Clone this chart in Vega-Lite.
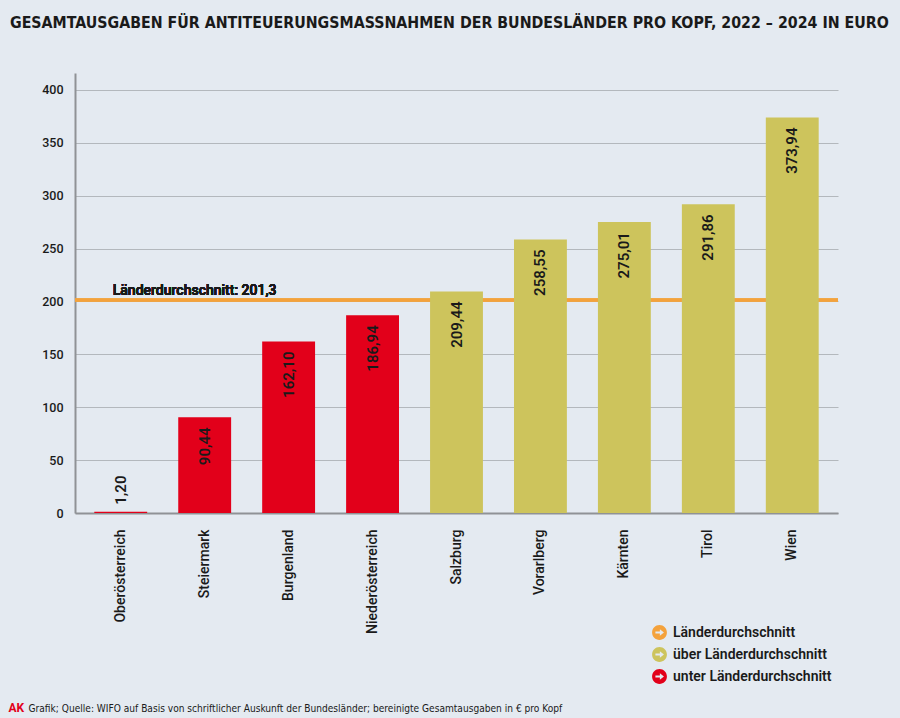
{
  "$schema": "https://vega.github.io/schema/vega-lite/v6.json",
  "width": 763,
  "height": 440,
  "autosize": {"type": "none"},
  "padding": {"left": 75, "top": 73, "right": 62, "bottom": 205},
  "background": "#e4eaf1",
  "config": {
    "view": {"stroke": null},
    "font": "Roboto",
    "locale": {"number": {"decimal": ",", "thousands": ".", "grouping": [3], "currency": ["", " €"]}}
  },
  "title": {
    "text": "GESAMTAUSGABEN FÜR ANTITEUERUNGSMASSNAHMEN DER BUNDESLÄNDER PRO KOPF, 2022 – 2024 IN EURO",
    "anchor": "start",
    "frame": "group",
    "dx": -65,
    "offset": 41,
    "font": "'DejaVu Sans Condensed', Roboto, sans-serif",
    "fontSize": 15.8,
    "fontWeight": "bold",
    "color": "#1a1a1a"
  },
  "data": {
    "values": [
      {"land": "Oberösterreich", "wert": 1.20, "kat": "unter Länderdurchschnitt"},
      {"land": "Steiermark", "wert": 90.44, "kat": "unter Länderdurchschnitt"},
      {"land": "Burgenland", "wert": 162.10, "kat": "unter Länderdurchschnitt"},
      {"land": "Niederösterreich", "wert": 186.94, "kat": "unter Länderdurchschnitt"},
      {"land": "Salzburg", "wert": 209.44, "kat": "über Länderdurchschnitt"},
      {"land": "Vorarlberg", "wert": 258.55, "kat": "über Länderdurchschnitt"},
      {"land": "Kärnten", "wert": 275.01, "kat": "über Länderdurchschnitt"},
      {"land": "Tirol", "wert": 291.86, "kat": "über Länderdurchschnitt"},
      {"land": "Wien", "wert": 373.94, "kat": "über Länderdurchschnitt"}
    ]
  },
  "encoding": {
    "x": {
      "field": "land",
      "type": "nominal",
      "sort": null,
      "scale": {"paddingInner": 0.37, "paddingOuter": 0.23},
      "axis": {
        "title": "Grafik; Quelle: WIFO auf Basis von schriftlicher Auskunft der Bundesländer; bereinigte Gesamtausgaben in € pro Kopf",
        "titleX": -47,
        "titleY": 198,
        "titleAlign": "left",
        "titleAnchor": "start",
        "titleBaseline": "alphabetic",
        "titleFont": "'DejaVu Sans Condensed', Roboto, sans-serif",
        "titleFontSize": 10.1,
        "titleFontWeight": "normal",
        "titleColor": "#1a1a1a",
        "labelAngle": -90,
        "labelAlign": "right",
        "labelBaseline": "middle",
        "labelPadding": 16,
        "labelFontSize": 14,
        "labelFontWeight": 500,
        "labelColor": "#1a1a1a",
        "ticks": false,
        "domainColor": "#8f9296",
        "domainWidth": 2
      }
    },
    "y": {
      "field": "wert",
      "type": "quantitative",
      "scale": {"domain": [0, 416], "nice": false},
      "axis": {
        "values": [0, 50, 100, 150, 200, 250, 300, 350, 400],
        "title": "AK",
        "titleAngle": 0,
        "titleX": -67,
        "titleY": 638,
        "titleAlign": "left",
        "titleBaseline": "alphabetic",
        "titleColor": "#e2001a",
        "titleFont": "Roboto",
        "titleFontSize": 12,
        "titleFontWeight": "bold",
        "grid": true,
        "gridColor": "#b3b8bd",
        "gridWidth": 1,
        "domainColor": "#8f9296",
        "domainWidth": 2,
        "ticks": false,
        "labelPadding": 12,
        "labelFontSize": 12.5,
        "labelFontWeight": 500,
        "labelColor": "#1a1a1a"
      }
    }
  },
  "layer": [
    {
      "mark": {"type": "rule", "color": "#f4a23c", "strokeWidth": 2.5},
      "encoding": {"y": {"datum": 201.3}, "x": null}
    },
    {
      "mark": {"type": "text", "align": "left", "baseline": "alphabetic", "dx": -8, "dy": -5, "fontSize": 14, "fontWeight": 500, "color": "#1a1a1a"},
      "encoding": {"y": {"datum": 201.3}, "x": {"datum": "Oberösterreich"}, "text": {"value": "Länderdurchschnitt: 201,3"}}
    },
    {
      "mark": {"type": "bar"},
      "encoding": {
        "color": {
          "field": "kat",
          "type": "nominal",
          "scale": {
            "domain": ["Länderdurchschnitt", "über Länderdurchschnitt", "unter Länderdurchschnitt"],
            "range": ["#f4a23c", "#cdc45c", "#e2001a"]
          },
          "legend": {
            "orient": "none",
            "legendX": 577,
            "legendY": 552,
            "title": null,
            "symbolType": "M-1,0A1,1 0 1,1 1,0A1,1 0 1,1 -1,0ZM-0.55,-0.13L-0.55,0.13L0.05,0.13L0.05,0.45L0.6,0L0.05,-0.45L0.05,-0.13Z",
            "symbolSize": 220,
            "symbolStrokeWidth": 0,
            "symbolOpacity": 1,
            "labelFontSize": 14,
            "labelFontWeight": 600,
            "labelColor": "#1a1a1a",
            "labelOffset": 6,
            "rowPadding": 7
          }
        }
      }
    },
    {
      "transform": [{"filter": "datum.wert >= 10"}],
      "mark": {"type": "text", "angle": 270, "align": "right", "baseline": "middle", "dx": -10, "fontSize": 15, "fontWeight": 600, "color": "#1a1a1a"},
      "encoding": {"text": {"field": "wert", "type": "quantitative", "format": ".2f"}}
    },
    {
      "transform": [{"filter": "datum.wert < 10"}],
      "mark": {"type": "text", "angle": 270, "align": "left", "baseline": "middle", "dx": 7, "fontSize": 15, "fontWeight": 600, "color": "#1a1a1a"},
      "encoding": {"text": {"field": "wert", "type": "quantitative", "format": ".2f"}}
    }
  ]
}
